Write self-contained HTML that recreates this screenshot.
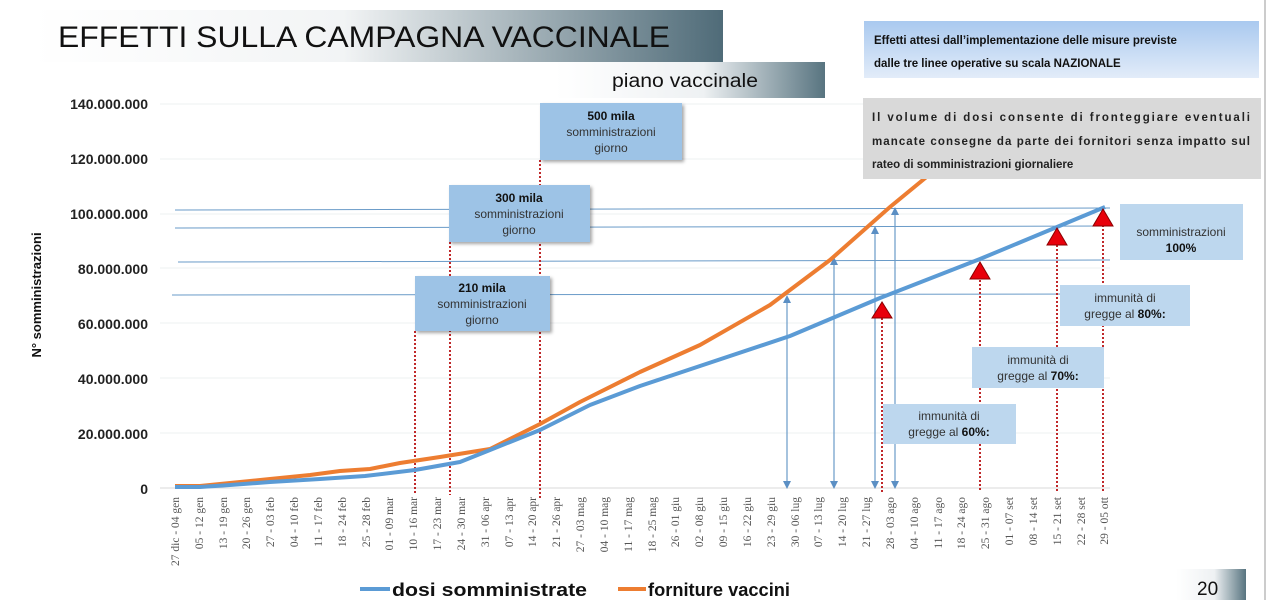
<!DOCTYPE html>
<html><head><meta charset="utf-8"><style>
body{margin:0;background:#fff;width:1280px;height:600px;overflow:hidden;font-family:"Liberation Sans",sans-serif}
svg{display:block}
</style></head><body>
<svg width="1280" height="600" xmlns="http://www.w3.org/2000/svg" font-family="Liberation Sans, sans-serif">
<defs>
<linearGradient id="tg" x1="0" x2="1" y1="0" y2="0"><stop offset="0" stop-color="#fff"/><stop offset="0.45" stop-color="#f2f4f5"/><stop offset="1" stop-color="#4f6b78"/></linearGradient>
<linearGradient id="pg" x1="0" x2="1"><stop offset="0" stop-color="#fff"/><stop offset="0.55" stop-color="#eef1f3"/><stop offset="1" stop-color="#587480"/></linearGradient>
<linearGradient id="bg1" x1="0" x2="0" y1="0" y2="1"><stop offset="0" stop-color="#a9c9ef"/><stop offset="1" stop-color="#e2ecf9"/></linearGradient>
<filter id="sh" x="-10%" y="-10%" width="130%" height="140%"><feDropShadow dx="2" dy="2" stdDeviation="1.5" flood-color="#000" flood-opacity="0.35"/></filter>
</defs>
<rect x="33" y="10" width="690" height="52" fill="url(#tg)"/>
<text x="58" y="47" font-size="30" fill="#111" textLength="612" lengthAdjust="spacingAndGlyphs">EFFETTI SULLA CAMPAGNA VACCINALE</text>
<rect x="555" y="62" width="270" height="36" fill="url(#pg)"/>
<text x="612" y="87" font-size="19" fill="#111" textLength="146" lengthAdjust="spacingAndGlyphs">piano vaccinale</text>
<line x1="1265" y1="0" x2="1265" y2="600" stroke="#ccc" stroke-width="2"/>
<g stroke="#eef0f2" stroke-width="1">
<line x1="160" y1="104" x2="1110" y2="104"/><line x1="160" y1="159" x2="1110" y2="159"/><line x1="160" y1="214" x2="1110" y2="214"/><line x1="160" y1="268" x2="1110" y2="268"/><line x1="160" y1="323" x2="1110" y2="323"/><line x1="160" y1="378" x2="1110" y2="378"/><line x1="160" y1="433" x2="1110" y2="433"/>
</g>
<line x1="160" y1="488" x2="1110" y2="488" stroke="#d9d9d9"/>
<g font-size="14" font-weight="bold" fill="#222" text-anchor="end">
<text x="148" y="109">140.000.000</text><text x="148" y="164">120.000.000</text><text x="148" y="219">100.000.000</text><text x="148" y="274">80.000.000</text><text x="148" y="329">60.000.000</text><text x="148" y="384">40.000.000</text><text x="148" y="439">20.000.000</text><text x="148" y="494">0</text>
</g>
<text transform="translate(41,295) rotate(-90)" text-anchor="middle" font-size="13" font-weight="bold" fill="#111">N° somministrazioni</text>
<g stroke="#6a9bc8" stroke-width="1">
<line x1="175" y1="210" x2="1110" y2="208"/><line x1="175" y1="228" x2="1110" y2="226"/><line x1="178" y1="262" x2="1110" y2="260"/><line x1="172" y1="295" x2="1110" y2="294"/>
</g>
<g stroke="#c0282a" stroke-width="2" stroke-dasharray="2,2">
<line x1="415" y1="331" x2="415" y2="495"/><line x1="450" y1="242" x2="450" y2="495"/><line x1="540" y1="160" x2="540" y2="500"/>
<line x1="882" y1="318" x2="882" y2="492"/><line x1="980" y1="280" x2="980" y2="492"/><line x1="1057" y1="245" x2="1057" y2="492"/><line x1="1103" y1="225" x2="1103" y2="492"/>
</g>
<g stroke="#6a9bc8" stroke-width="1.2">
<line x1="787" y1="298" x2="787" y2="482"/><line x1="834" y1="260" x2="834" y2="482"/><line x1="875" y1="229" x2="875" y2="482"/><line x1="895" y1="210" x2="895" y2="482"/>
</g>
<g fill="#5b8fc4">
<polygon points="783,481 791,481 787,489"/><polygon points="830,481 838,481 834,489"/><polygon points="871,481 879,481 875,489"/><polygon points="891,481 899,481 895,489"/>
<polygon points="783,303 791,303 787,295"/><polygon points="830,265 838,265 834,257"/><polygon points="871,234 879,234 875,226"/><polygon points="891,215 899,215 895,207"/>
</g>
<polyline fill="none" stroke="#ed7d31" stroke-width="4" stroke-linejoin="round" points="175,486 200,486 230,483 270,479 310,475 340,471 370,469 400,463 440,457 490,449 540,424 580,402 640,372 700,345 770,305 830,260 890,207 935,170"/>
<polyline fill="none" stroke="#5b9bd5" stroke-width="4" stroke-linejoin="round" points="175,487 200,487 230,485 270,482 320,479 365,476 415,470 460,462 490,450 540,430 590,405 640,386 700,366 790,336 880,298 980,259 1105,207"/>
<g fill="#e8000b" stroke="#8b0000" stroke-width="1">
<polygon points="882,302 872,318 892,318"/><polygon points="980,262 970,279 990,279"/><polygon points="1057,228 1047,245 1067,245"/><polygon points="1103,209 1093,226 1113,226"/>
</g>
<g filter="url(#sh)" fill="#9dc3e6">
<rect x="540" y="103" width="142" height="57"/><rect x="449" y="185" width="141" height="57"/><rect x="415" y="276" width="135" height="55"/>
</g>
<g font-size="12" fill="#333" text-anchor="middle">
<text x="611" y="120" font-weight="bold" fill="#111">500 mila</text><text x="611" y="136">somministrazioni</text><text x="611" y="152">giorno</text>
<text x="519" y="202" font-weight="bold" fill="#111">300 mila</text><text x="519" y="218">somministrazioni</text><text x="519" y="234">giorno</text>
<text x="482" y="292" font-weight="bold" fill="#111">210 mila</text><text x="482" y="308">somministrazioni</text><text x="482" y="324">giorno</text>
</g>
<g fill="#bdd7ee">
<rect x="1120" y="204" width="123" height="56"/><rect x="1060" y="285" width="130" height="41"/><rect x="972" y="347" width="132" height="41"/><rect x="883" y="404" width="133" height="40"/>
</g>
<g font-size="12" fill="#333" text-anchor="middle">
<text x="1181" y="236">somministrazioni</text><text x="1181" y="252" font-weight="bold" fill="#111">100%</text>
<text x="1125" y="302">immunità di</text><text x="1125" y="318">gregge al <tspan font-weight="bold" fill="#111">80%:</tspan></text>
<text x="1038" y="364">immunità di</text><text x="1038" y="380">gregge al <tspan font-weight="bold" fill="#111">70%:</tspan></text>
<text x="949" y="420">immunità di</text><text x="949" y="436">gregge al <tspan font-weight="bold" fill="#111">60%:</tspan></text>
</g>
<rect x="864" y="21" width="395" height="57" fill="url(#bg1)"/>
<g font-size="11.5" font-weight="bold" fill="#111">
<text x="874" y="44">Effetti attesi dall’implementazione delle misure previste</text>
<text x="874" y="67">dalle tre linee operative su scala NAZIONALE</text>
</g>
<rect x="863" y="98" width="398" height="81" fill="#d9d9d9"/>
<g font-size="11.5" font-weight="bold" fill="#222">
<text x="872" y="121" textLength="378" lengthAdjust="spacing">Il volume di  dosi consente di fronteggiare eventuali</text>
<text x="872" y="145" textLength="378" lengthAdjust="spacing">mancate consegne da parte dei fornitori senza impatto sul</text>
<text x="872" y="168">rateo di somministrazioni giornaliere</text>
</g>
<g font-family="Liberation Serif, serif" font-size="11.5" fill="#555" text-anchor="end">
<text transform="translate(179,497) rotate(-90)">27 dic - 04 gen</text>
<text transform="translate(203,497) rotate(-90)">05 - 12 gen</text>
<text transform="translate(227,497) rotate(-90)">13 - 19 gen</text>
<text transform="translate(250,497) rotate(-90)">20 - 26 gen</text>
<text transform="translate(274,497) rotate(-90)">27 - 03 feb</text>
<text transform="translate(298,497) rotate(-90)">04 - 10 feb</text>
<text transform="translate(322,497) rotate(-90)">11 - 17 feb</text>
<text transform="translate(346,497) rotate(-90)">18 - 24 feb</text>
<text transform="translate(370,497) rotate(-90)">25 - 28 feb</text>
<text transform="translate(393,497) rotate(-90)">01 - 09 mar</text>
<text transform="translate(417,497) rotate(-90)">10 - 16 mar</text>
<text transform="translate(441,497) rotate(-90)">17 - 23 mar</text>
<text transform="translate(465,497) rotate(-90)">24 - 30 mar</text>
<text transform="translate(489,497) rotate(-90)">31 - 06 apr</text>
<text transform="translate(513,497) rotate(-90)">07 - 13 apr</text>
<text transform="translate(536,497) rotate(-90)">14 - 20 apr</text>
<text transform="translate(560,497) rotate(-90)">21 - 26 apr</text>
<text transform="translate(584,497) rotate(-90)">27 - 03 mag</text>
<text transform="translate(608,497) rotate(-90)">04 - 10 mag</text>
<text transform="translate(632,497) rotate(-90)">11 - 17 mag</text>
<text transform="translate(656,497) rotate(-90)">18 - 25 mag</text>
<text transform="translate(679,497) rotate(-90)">26 - 01 giu</text>
<text transform="translate(703,497) rotate(-90)">02 - 08 giu</text>
<text transform="translate(727,497) rotate(-90)">09 - 15 giu</text>
<text transform="translate(751,497) rotate(-90)">16 - 22 giu</text>
<text transform="translate(775,497) rotate(-90)">23 - 29 giu</text>
<text transform="translate(799,497) rotate(-90)">30 - 06 lug</text>
<text transform="translate(822,497) rotate(-90)">07 - 13 lug</text>
<text transform="translate(846,497) rotate(-90)">14 - 20 lug</text>
<text transform="translate(870,497) rotate(-90)">21 - 27 lug</text>
<text transform="translate(894,497) rotate(-90)">28 - 03 ago</text>
<text transform="translate(918,497) rotate(-90)">04 - 10 ago</text>
<text transform="translate(942,497) rotate(-90)">11 - 17 ago</text>
<text transform="translate(965,497) rotate(-90)">18 - 24 ago</text>
<text transform="translate(989,497) rotate(-90)">25 - 31 ago</text>
<text transform="translate(1013,497) rotate(-90)">01 - 07 set</text>
<text transform="translate(1037,497) rotate(-90)">08 - 14 set</text>
<text transform="translate(1061,497) rotate(-90)">15 - 21 set</text>
<text transform="translate(1085,497) rotate(-90)">22 - 28 set</text>
<text transform="translate(1108,497) rotate(-90)">29 - 05 ott</text>
</g>
<line x1="360" y1="589" x2="390" y2="589" stroke="#5b9bd5" stroke-width="4"/>
<text x="392" y="596" font-size="18" font-weight="bold" fill="#111" textLength="195" lengthAdjust="spacingAndGlyphs">dosi somministrate</text>
<line x1="618" y1="589" x2="646" y2="589" stroke="#ed7d31" stroke-width="4"/>
<text x="648" y="596" font-size="18" font-weight="bold" fill="#111" textLength="142" lengthAdjust="spacingAndGlyphs">forniture vaccini</text>
<rect x="1176" y="569" width="70" height="31" fill="url(#pg)"/>
<text x="1197" y="595" font-size="19" fill="#111">20</text>
</svg>
</body></html>
